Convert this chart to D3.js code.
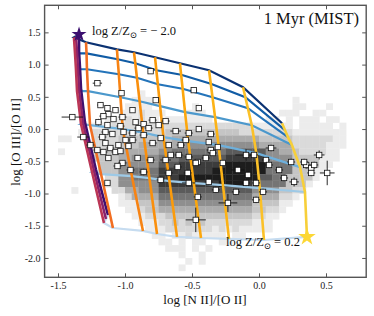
<!DOCTYPE html>
<html>
<head>
<meta charset="utf-8">
<script src="https://cdn.jsdelivr.net/npm/d3@7"></script>
<style>
  body { margin: 0; background: #fff; }
  text { font-family: "Liberation Serif", "DejaVu Serif", serif; }
</style>
</head>
<body>
<svg id="chart"></svg>
<script>
const W = 374, H = 316;

// axes
const X_DOMAIN = [-1.6, 0.8];
const Y_DOMAIN = [-2.3, 1.92];
const X_TICKS = [-1.5, -1.0, -0.5, 0.0, 0.5];
const Y_TICKS = [-2.0, -1.5, -1.0, -0.5, 0.0, 0.5, 1.0, 1.5];

// background galaxy density (grey levels 0-9), bins of 0.05 dex in x, 0.1 dex in y
const HIST_X0 = -1.6, HIST_DX = 0.05, HIST_YTOP = 1.0, HIST_DY = 0.1;
const HIST_ROWS = [
  "000000000000000000000000000000000000000000000000",
  "000000000000000000000000000000000000000000000000",
  "000000000000000000000000000000000000000000000000",
  "000000000000000000000000000000000000000000000000",
  "000000000000001000000000000000000000000000000000",
  "000000000000011100000000000000000000010000000000",
  "000000000000111100000010000000000000011000100000",
  "000000000001112111000111000000000001110011000000",
  "000000000111212110111111100000000110101110110000",
  "000000011122222222222222222222211111101111101000",
  "000001022222222222333333333332222222211111111000",
  "001100022223333334344444444444443333322222211000",
  "000000022223434444545555555555554444422222111000",
  "001000023334444445566666666777777554432222110000",
  "000000033334455556667777777888888555533331110000",
  "000000003335555557778888888999999666633331100000",
  "000000003335566668888888899999999666633311000000",
  "000000000225566668889999999999997766333310000000",
  "000000000225555558888888889999866666333100000000",
  "000010000022445557777777777777755553322000000000",
  "000000000001244446666666666666644442210000000000",
  "000000000001113335555555555555533331100000000000",
  "000000000000112334444444444444433221000000000000",
  "000000000000011222333333333333322110000000000000",
  "000000000000001112232323222222211100000000000000",
  "000000000000000111222222212121111100000000000000",
  "000000000000000011011211111011000000000000000000",
  "000000000000000001101011001100000000000000000000",
  "000000000000000000111010100000000000000000000000",
  "000000000000000000001001000000000000000000000000",
  "000000000000000000000101000000000000000000000000",
  "000000000000000000001000000000000000000000000000"
];

// photoionisation grid: rows = metallicity tracks (low -> high), columns = log U (high -> low)
const LOG_Z = [-2.0, -1.5, -1.3, -1.0, -0.8, -0.6, -0.5, -0.4, -0.3, 0.0, 0.2];
const LOG_U = [-1.0, -1.5, -2.0, -2.5, -3.0, -3.5, -4.0];
const GRID_X = [
  [-1.343, -1.343, -1.336, -1.328, -1.299, -1.216, -1.127],
  [-1.366, -1.358, -1.351, -1.343, -1.313, -1.231, -1.142],
  [-1.381, -1.373, -1.366, -1.358, -1.328, -1.246, -1.157],
  [-1.291, -1.287, -1.284, -1.276, -1.261, -1.179, -1.090],
  [-1.060, -1.055, -1.046, -1.034, -1.017, -0.949, -0.866],
  [-0.933, -0.923, -0.911, -0.891, -0.864, -0.818, -0.761],
  [-0.776, -0.766, -0.755, -0.738, -0.713, -0.668, -0.612],
  [-0.590, -0.581, -0.570, -0.552, -0.528, -0.487, -0.433],
  [-0.373, -0.360, -0.347, -0.328, -0.302, -0.269, -0.224],
  [-0.119, -0.102, -0.083, -0.054, -0.020,  0.006,  0.037],
  [ 0.172,  0.194,  0.216,  0.246,  0.306,  0.343,  0.358]
];
const GRID_Y = [
  [ 1.469,  1.206,  0.959,  0.618,  0.107, -0.637, -1.333],
  [ 1.439,  1.191,  0.943,  0.602,  0.091, -0.652, -1.395],
  [ 1.423,  1.175,  0.928,  0.587,  0.076, -0.667, -1.457],
  [ 1.346,  1.175,  0.928,  0.587,  0.060, -0.698, -1.535],
  [ 1.237,  1.083,  0.850,  0.494, -0.002, -0.729, -1.581],
  [ 1.191,  1.021,  0.796,  0.432, -0.056, -0.760, -1.628],
  [ 1.114,  0.912,  0.695,  0.355, -0.125, -0.807, -1.674],
  [ 1.021,  0.842,  0.626,  0.262, -0.187, -0.838, -1.690],
  [ 0.912,  0.703,  0.494,  0.184, -0.249, -0.869, -1.705],
  [ 0.649,  0.494,  0.324,  0.060, -0.373, -0.915, -1.721],
  [ 0.091, -0.017, -0.125, -0.249, -0.590, -0.977, -1.674]
];

// observed galaxies
const OBS_X = [-1.206,-1.026,-0.809,-0.771,-0.487,-0.449,-1.183,-1.131,-1.124,-1.071,
  -1.161,-1.198,-1.131,-1.086,-1.019,-0.944,-1.034,-0.921,-0.899,-1.146,
  -1.094,-1.011,-0.944,-0.861,-1.393,-0.794,-0.749,-0.697,-0.824,-0.622,
  -0.524,-0.449,-0.360,-1.311,-1.169,-1.146,-1.109,-1.049,-1.071,-0.996,
  -0.944,-0.906,-1.019,-1.056,-1.124,-1.161,-1.034,-0.861,-1.131,-1.206,
  -0.794,-0.674,-0.584,-0.659,-0.599,-0.697,-0.607,-0.532,-0.457,-0.397,
  -0.375,-0.360,-0.307,-0.270,-0.375,-0.322,-0.172,-0.232,-0.457,-0.472,
  -0.157,-0.674,-0.524,-0.472,-0.345,-0.097,-0.082,-0.022, 0.090, 0.150,
   0.262, 0.352, 0.390, 0.412, 0.449, 0.509,-0.022,-0.037, 0.052, 0.075,
   0.187, 0.240, 0.337, 0.390,-0.097, 0.030,-0.974,-0.861,-0.734,-0.547,
  -0.809,-0.959,-0.734,-1.258,-0.524];
const OBS_Y = [ 0.712, 0.557, 0.898, 0.449, 0.604, 0.325, 0.372, 0.325, 0.232, 0.294,
   0.201, 0.108, 0.062, 0.155, 0.186, 0.294, 0.046, 0.108, 0.015,-0.046,
  -0.077,-0.046,-0.062, 0.077, 0.186, 0.139, 0.062, 0.124, 0.015,-0.031,
  -0.062, 0.000,-0.077,-0.124,-0.124,-0.217,-0.294,-0.248,-0.356,-0.170,
  -0.170,-0.449,-0.526,-0.573,-0.449,-0.356,-0.341,-0.666,-0.836,-0.325,
  -0.217,-0.248,-0.248,-0.402,-0.402,-0.480,-0.588,-0.681,-0.511,-0.449,
  -0.201,-0.325,-0.279,-0.526,-0.820,-0.944,-0.975,-1.146,-1.053,-1.409,
  -0.635,-0.681,-0.433,-0.526,-0.372,-0.402,-0.712,-0.836,-0.294,-0.635,
  -0.820,-0.557,-0.604,-0.557,-0.402,-0.681,-1.099,-0.402,-0.480,-0.557,
  -0.759,-0.511,-0.511,-0.681,-0.836,-0.975,-0.263,-0.093,-0.139,-0.170,
  -0.480,-0.635,-0.789,-0.248,-0.836];
const OBS_XERR = [0.035,0.02,0.02,0.02,0.025,0.02,0.025,0.02,0.02,0.02,
  0.03,0.025,0.02,0.02,0.03,0.02,0.03,0.02,0.03,0.03,
  0.02,0.02,0.03,0.02,0.08,0.03,0.02,0.03,0.03,0.04,
  0.03,0.02,0.03,0.045,0.03,0.02,0.03,0.02,0.03,0.02,
  0.03,0.02,0.03,0.03,0.02,0.03,0.02,0.03,0.02,0.03,
  0.03,0.02,0.03,0.02,0.03,0.04,0.03,0.03,0.02,0.03,
  0.02,0.03,0.02,0.03,0.03,0.03,0.03,0.07,0.03,0.075,
  0.05,0.03,0.03,0.02,0.03,0.08,0.03,0.03,0.04,0.03,
  0.035,0.03,0.03,0.03,0.04,0.055,0.03,0.03,0.03,0.03,
  0.03,0.03,0.03,0.03,0.03,0.03,0.02,0.03,0.02,0.03,
  0.03,0.03,0.03,0.03,0.05];
const OBS_YERR = [0.03,0.03,0.03,0.03,0.03,0.03,0.04,0.03,0.03,0.03,
  0.04,0.05,0.04,0.03,0.03,0.03,0.04,0.03,0.04,0.04,
  0.03,0.03,0.04,0.03,0.03,0.03,0.03,0.03,0.04,0.03,
  0.04,0.03,0.04,0.03,0.04,0.03,0.03,0.04,0.03,0.03,
  0.04,0.04,0.04,0.03,0.04,0.03,0.03,0.05,0.04,0.04,
  0.04,0.03,0.04,0.03,0.04,0.04,0.04,0.05,0.04,0.04,
  0.03,0.04,0.03,0.04,0.05,0.05,0.05,0.14,0.05,0.19,
  0.04,0.05,0.04,0.04,0.04,0.09,0.05,0.05,0.05,0.05,
  0.07,0.06,0.05,0.05,0.07,0.19,0.05,0.04,0.04,0.05,
  0.05,0.05,0.05,0.05,0.05,0.05,0.03,0.04,0.03,0.04,
  0.04,0.04,0.05,0.04,0.05];

const U_COLORS = ["#0b3272","#115ca5","#2474ba","#4b98cc","#6eb0dc","#9dc9e6","#c6dcf0"];
const Z_COLORS = ["#3f0f6e","#8a226a","#bb3656","#f26e21","#f78313","#fa8f0c","#fb9b0b","#fca70d","#fcb317","#fbc128","#f7cf3a"];

const svg = d3.select('#chart').attr('width', W).attr('height', H);

const x = d3.scaleLinear().domain(X_DOMAIN).range([44.6, 366.2]);
const y = d3.scaleLinear().domain(Y_DOMAIN).range([277.3, 5.3]);

svg.append('defs').append('clipPath').attr('id', 'clip')
  .append('rect').attr('x', 44.6).attr('y', 5.3).attr('width', 321.6).attr('height', 272);

const plot = svg.append('g').attr('clip-path', 'url(#clip)');

// density histogram
const grey = lv => d3.interpolateGreys(0.05 + 0.095 * lv);
const cells = [];
HIST_ROWS.forEach((row, r) => {
  row.split('').forEach((ch, c) => {
    const lv = +ch;
    if (lv > 0) cells.push({x0: HIST_X0 + c * HIST_DX, y1: HIST_YTOP - r * HIST_DY, lv});
  });
});
plot.append('g').selectAll('rect').data(cells).join('rect')
  .attr('x', d => x(d.x0)).attr('y', d => y(d.y1))
  .attr('width', d => x(d.x0 + HIST_DX) - x(d.x0) + 0.3)
  .attr('height', d => y(d.y1 - HIST_DY) - y(d.y1) + 0.3)
  .attr('fill', d => grey(d.lv));

// grid lines
const line = d3.line().x(d => x(d[0])).y(d => y(d[1]));
const uTracks = LOG_U.map((u, j) => GRID_X.map((row, i) => [row[j], GRID_Y[i][j]]));
const zTracks = LOG_Z.map((z, i) => GRID_X[i].map((gx, j) => [gx, GRID_Y[i][j]]));

plot.append('g').selectAll('path').data(uTracks).join('path')
  .attr('d', line).attr('fill', 'none')
  .attr('stroke', (d, j) => U_COLORS[j]).attr('stroke-width', 2.2);

plot.append('g').selectAll('path').data(zTracks).join('path')
  .attr('d', line).attr('fill', 'none')
  .attr('stroke', (d, i) => Z_COLORS[i]).attr('stroke-width', 2.6);

// observations
const obs = OBS_X.map((v, i) => ({x: v, y: OBS_Y[i], xe: OBS_XERR[i], ye: OBS_YERR[i]}));
const og = plot.append('g');
og.selectAll('line.xe').data(obs).join('line').attr('class', 'xe')
  .attr('x1', d => x(d.x - d.xe)).attr('x2', d => x(d.x + d.xe))
  .attr('y1', d => y(d.y)).attr('y2', d => y(d.y))
  .attr('stroke', '#111').attr('stroke-width', 0.9);
og.selectAll('line.ye').data(obs).join('line').attr('class', 'ye')
  .attr('x1', d => x(d.x)).attr('x2', d => x(d.x))
  .attr('y1', d => y(d.y - d.ye)).attr('y2', d => y(d.y + d.ye))
  .attr('stroke', '#111').attr('stroke-width', 0.9);
const S = 5.4;
og.selectAll('rect').data(obs).join('rect')
  .attr('x', d => x(d.x) - S / 2).attr('y', d => y(d.y) - S / 2)
  .attr('width', S).attr('height', S)
  .attr('fill', '#fff').attr('stroke', '#111').attr('stroke-width', 0.8);

// end-point stars
const stars = [
  {x: GRID_X[0][0], y: GRID_Y[0][0], c: '#3b0f6f', s: 70},
  {x: GRID_X[10][6], y: GRID_Y[10][6], c: '#fcd735', s: 95}
];
svg.append('g').selectAll('path').data(stars).join('path')
  .attr('transform', d => `translate(${x(d.x)},${y(d.y)})`)
  .attr('d', d => d3.symbol(d3.symbolStar, d.s)())
  .attr('fill', d => d.c);

// axes
const tickFmt = d => d.toFixed(1);
function styleAxis(g) {
  g.select('.domain').remove();
  g.selectAll('.tick line').attr('stroke', '#555').attr('stroke-width', 1);
  g.selectAll('.tick text').attr('fill', '#222').style('font-size', '10px')
    .style('font-family', '"Liberation Serif", serif');
}
svg.append('g').attr('transform', 'translate(0,277.3)')
  .call(d3.axisBottom(x).tickValues(X_TICKS).tickSize(-4).tickPadding(5).tickFormat(tickFmt))
  .call(styleAxis);
svg.append('g').attr('transform', 'translate(0,5.3)')
  .call(d3.axisTop(x).tickValues(X_TICKS).tickSize(-4).tickFormat(''))
  .call(styleAxis);
svg.append('g').attr('transform', 'translate(44.6,0)')
  .call(d3.axisLeft(y).tickValues(Y_TICKS).tickSize(-4).tickPadding(4).tickFormat(tickFmt))
  .call(styleAxis);
svg.append('g').attr('transform', 'translate(366.2,0)')
  .call(d3.axisRight(y).tickValues(Y_TICKS).tickSize(-4).tickFormat(''))
  .call(styleAxis);

svg.append('rect').attr('x', 44.6).attr('y', 5.3).attr('width', 321.6).attr('height', 272)
  .attr('fill', 'none').attr('stroke', '#555').attr('stroke-width', 1.4);

// labels
svg.append('text').attr('x', 205).attr('y', 304).attr('text-anchor', 'middle')
  .style('font-size', '13px').attr('fill', '#111').text('log [N II]/[O II]');
svg.append('text').attr('transform', 'translate(20,142) rotate(-90)').attr('text-anchor', 'middle')
  .style('font-size', '13px').attr('fill', '#111').text('log [O III]/[O II]');

svg.append('text').attr('x', 359).attr('y', 24).attr('text-anchor', 'end')
  .style('font-size', '16.5px').attr('fill', '#111').text('1 Myr (MIST)');

function zLabel(px, py, value) {
  const t = svg.append('text').attr('x', px).attr('y', py)
    .style('font-size', '12.5px').attr('fill', '#111');
  t.append('tspan').text('log Z/Z');
  t.append('tspan').attr('dy', 3).style('font-size', '8.5px').text('⊙');
  t.append('tspan').attr('dy', -3).text(' = ' + value);
}
zLabel(92, 35, '− 2.0');
zLabel(226, 246, '0.2');
</script>
</body>
</html>
